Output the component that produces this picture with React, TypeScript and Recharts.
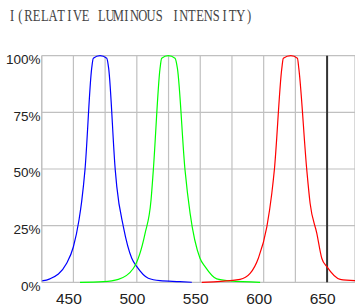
import React from 'react';
import { LineChart, Line, XAxis, YAxis, CartesianGrid, ReferenceLine } from 'recharts';

const titleText = 'I(RELATIVE LUMINOUS INTENSITY)';
const xTicks = [425, 450, 475, 500, 525, 550, 575, 600, 625, 650];
const xLabelled = [450, 500, 550, 600, 650];
const yTicks = [0, 25, 50, 75, 100];

const blueNm = [425, 431.5, 444.7, 450, 454.4, 456.5, 459.1, 464.4, 465.7, 471, 476.3, 477.8, 483, 484.2, 489.4, 496, 500, 509, 518.3, 534, 543.3];
const blueVal = [0.6, 1.5, 8.4, 15.7, 27.5, 35.6, 49.5, 94.4, 98.9, 100, 98.9, 94.4, 49.5, 42.2, 24.5, 10.6, 6.9, 1.8, 0.7, 0.3, 0];

const greenNm = [455.2, 473.6, 485.4, 497.2, 506.5, 511.2, 513, 518.3, 519.6, 524.8, 530.1, 532, 538, 542, 549.8, 553.8, 563, 573.5, 597.2];
const greenVal = [0, 0.3, 1.3, 6.1, 21.6, 36.3, 49.5, 94.4, 98.9, 100, 98.9, 94.4, 49.5, 30.4, 10.6, 6.9, 1.5, 0.6, 0];

const redNm = [551.2, 581.4, 589.3, 595.8, 602.5, 606.4, 608.4, 614.3, 615.5, 621.4, 626.6, 627.7, 634, 636.6, 641.9, 645.8, 649.8, 660.3, 672];
const redVal = [0, 1.3, 3.9, 10.6, 24.5, 39.2, 49.5, 94.4, 98.9, 100, 98.9, 94.4, 49.5, 34.9, 21.6, 10.6, 6.9, 1.3, 0.7];

const toRows = (xs: number[], ys: number[]) => xs.map((x, i) => ({ x, y: ys[i] }));
const blueData = toRows(blueNm, blueVal);
const greenData = toRows(greenNm, greenVal);
const redData = toRows(redNm, redVal);

const TITLE_SCALE = 0.76;
const TITLE_PITCH = 8.17;
const titleXs = titleText
  .split('')
  .map((_, i) => ((8 + (i + 0.5) * TITLE_PITCH) / TITLE_SCALE).toFixed(2))
  .join(' ');

const XTick = (props: any) => {
  const { x, payload } = props;
  if (!xLabelled.includes(payload.value)) return null;
  return (
    <text x={x - 4.5} y={304} textAnchor="middle" fontFamily="'Liberation Sans', Arial, sans-serif" fontSize={15.5} fill="#222">
      {payload.value}
    </text>
  );
};

const YTick = (props: any) => {
  const { y, payload } = props;
  return (
    <text x={40.5} y={y + 8.3} textAnchor="end" fontFamily="'Liberation Sans', Arial, sans-serif" fontSize={13.5} fill="#222">
      {payload.value + '%'}
    </text>
  );
};

export default function App() {
  return (
    <div style={{ position: 'fixed', left: 0, top: 0, width: 355, height: 307, background: '#fff' }}>
      <svg width={355} height={40} style={{ position: 'absolute', left: 0, top: 0 }}>
        <text
          transform={`scale(${TITLE_SCALE},1)`}
          x={titleXs}
          y={21.5}
          textAnchor="middle"
          fontFamily="'Liberation Serif', 'Times New Roman', serif"
          fontSize={16.5}
          fill="#444"
        >
          {titleText}
        </text>
      </svg>
      <LineChart width={355} height={307} margin={{ top: 55.7, right: 0, bottom: 0, left: 0 }} style={{ position: 'absolute', left: 0, top: 0 }}>
        <CartesianGrid stroke="#c0c0c0" strokeWidth={1.2} />
        <XAxis
          dataKey="x"
          type="number"
          domain={[425, 672]}
          ticks={xTicks}
          allowDataOverflow
          height={24.7}
          axisLine={false}
          tickLine={false}
          tick={<XTick />}
          interval={0}
        />
        <YAxis
          type="number"
          domain={[0, 100]}
          ticks={yTicks}
          width={41.7}
          axisLine={{ stroke: '#c0c0c0', strokeWidth: 1.2 }}
          tickLine={false}
          tick={<YTick />}
          interval={0}
        />
        <ReferenceLine x={650} stroke="#333" strokeWidth={2} />
        <Line data={blueData} dataKey="y" type="monotone" stroke="#0000ff" strokeWidth={1.2} dot={false} isAnimationActive={false} />
        <Line data={greenData} dataKey="y" type="monotone" stroke="#00ff00" strokeWidth={1.2} dot={false} isAnimationActive={false} />
        <Line data={redData} dataKey="y" type="monotone" stroke="#ff0000" strokeWidth={1.2} dot={false} isAnimationActive={false} />
      </LineChart>
    </div>
  );
}
